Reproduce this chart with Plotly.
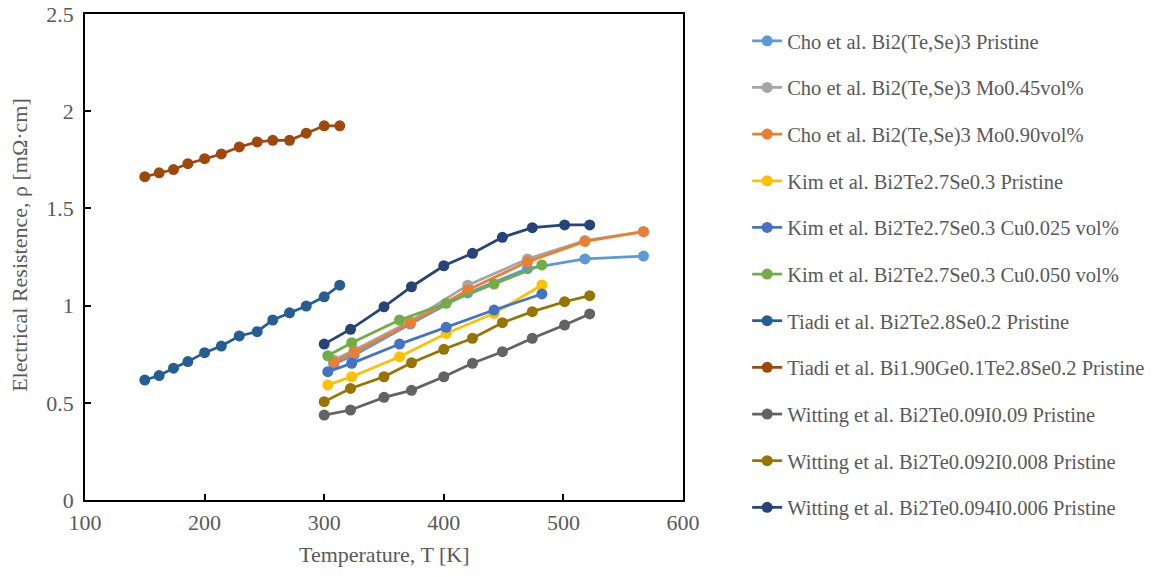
import plotly.graph_objects as go

# ---- data ----
cho_T = [308, 325, 372, 420, 470, 518, 567]
cho_pristine = [0.70, 0.745, 0.905, 1.065, 1.19, 1.24, 1.255]
cho_mo045 = [0.72, 0.77, 0.92, 1.105, 1.24, 1.335, 1.38]
cho_mo090 = [0.71, 0.76, 0.91, 1.08, 1.225, 1.33, 1.38]

kim_T = [303, 323, 363, 402, 442, 482]
kim_pristine = [0.592, 0.634, 0.737, 0.857, 0.960, 1.106]
kim_cu025 = [0.660, 0.703, 0.802, 0.888, 0.977, 1.060]
kim_cu050 = [0.742, 0.809, 0.926, 1.012, 1.111, 1.209]

tiadi_T = [150, 162, 174, 186, 200, 214, 229, 244, 257, 271, 285, 300, 313]
tiadi_bi2 = [0.617, 0.640, 0.678, 0.712, 0.758, 0.792, 0.844, 0.866, 0.926, 0.963, 0.998, 1.045, 1.105]
tiadi_ge = [1.663, 1.683, 1.700, 1.730, 1.756, 1.780, 1.816, 1.842, 1.850, 1.850, 1.887, 1.925, 1.925]

witt_T = [300, 322, 350, 373, 400, 424, 449, 474, 501, 522]
witt_009 = [0.437, 0.463, 0.528, 0.564, 0.634, 0.703, 0.763, 0.832, 0.900, 0.957]
witt_0092 = [0.506, 0.574, 0.634, 0.706, 0.775, 0.832, 0.912, 0.969, 1.020, 1.051]
witt_0094 = [0.802, 0.878, 0.994, 1.097, 1.205, 1.269, 1.351, 1.401, 1.415, 1.415]

x_title = "Temperature, T [K]"
y_title = "Electrical Resistence, ρ [mΩ·cm]"

series = [
    ("Cho et al. Bi2(Te,Se)3 Pristine", cho_T, cho_pristine, "#5B9BD5"),
    ("Cho et al. Bi2(Te,Se)3 Mo0.45vol%", cho_T, cho_mo045, "#A5A5A5"),
    ("Cho et al. Bi2(Te,Se)3 Mo0.90vol%", cho_T, cho_mo090, "#ED7D31"),
    ("Kim et al. Bi2Te2.7Se0.3 Pristine", kim_T, kim_pristine, "#FFC000"),
    ("Kim et al. Bi2Te2.7Se0.3 Cu0.025 vol%", kim_T, kim_cu025, "#4472C4"),
    ("Kim et al. Bi2Te2.7Se0.3 Cu0.050 vol%", kim_T, kim_cu050, "#70AD47"),
    ("Tiadi et al. Bi2Te2.8Se0.2 Pristine", tiadi_T, tiadi_bi2, "#255E91"),
    ("Tiadi et al. Bi1.90Ge0.1Te2.8Se0.2 Pristine", tiadi_T, tiadi_ge, "#9E480E"),
    ("Witting et al. Bi2Te0.09I0.09 Pristine", witt_T, witt_009, "#636363"),
    ("Witting et al. Bi2Te0.092I0.008 Pristine", witt_T, witt_0092, "#997300"),
    ("Witting et al. Bi2Te0.094I0.006 Pristine", witt_T, witt_0094, "#264478"),
]

fig = go.Figure()
for i, (name, xs, ys, col) in enumerate(series):
    fig.add_trace(go.Scatter(
        x=xs, y=ys, name=name, mode="lines+markers",
        line=dict(color=col, width=2.75),
        marker=dict(color=col, size=11),
        legendgroup=f"g{i}",
    ))

font_family = "Liberation Serif, Times New Roman, serif"
grey = "#595959"

fig.update_layout(
    width=1159, height=577,
    margin=dict(l=85, r=476, t=14, b=77, autoexpand=False),
    paper_bgcolor="white", plot_bgcolor="white",
    font=dict(family=font_family, size=21, color=grey),
    showlegend=True,
    legend=dict(
        x=1.1073, xanchor="left", y=0.9856, yanchor="top",
        font=dict(family=font_family, size=20.5, color=grey),
        tracegroupgap=17, itemwidth=30, maxheight=577,
        bgcolor="rgba(0,0,0,0)",
    ),
    xaxis=dict(
        range=[100, 600], dtick=100, tick0=100, automargin=False,
        showgrid=False, zeroline=False,
        showline=True, linecolor="black", linewidth=1.5, mirror=True,
        ticks="inside", ticklen=6, tickcolor="black", tickwidth=1.5,
        ticklabelstandoff=2, ticklabeloverflow="allow",
        tickfont=dict(family=font_family, size=22, color=grey),
    ),
    yaxis=dict(
        range=[0, 2.5], dtick=0.5, tick0=0, automargin=False,
        showgrid=False, zeroline=False,
        showline=True, linecolor="black", linewidth=1.5, mirror=True,
        ticks="inside", ticklen=6, tickcolor="black", tickwidth=1.5,
        ticklabelstandoff=5, ticklabeloverflow="allow",
        tickfont=dict(family=font_family, size=22, color=grey),
    ),
    annotations=[
        dict(text=x_title, xref="paper", yref="paper", x=0.5, y=-0.113,
             xanchor="center", yanchor="middle", showarrow=False,
             font=dict(family=font_family, size=22, color=grey)),
        dict(text=y_title, xref="paper", yref="paper", x=-0.1087, y=0.525,
             xanchor="center", yanchor="middle", showarrow=False, textangle=-90,
             font=dict(family=font_family, size=22, color=grey)),
    ],
)

fig.write_html("out.html", config={"displayModeBar": False},
               post_script="document.body.style.margin='0';document.body.style.overflow='hidden';")
